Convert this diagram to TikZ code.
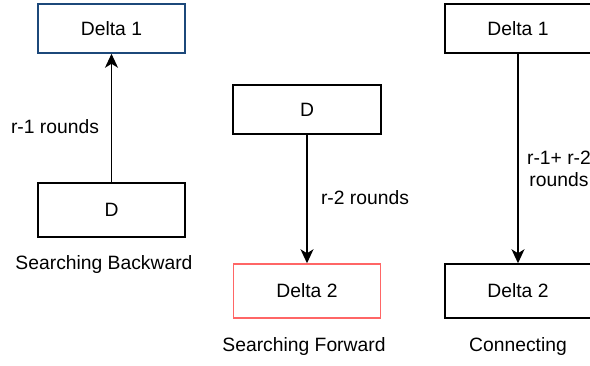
\documentclass[tikz,border=0pt]{standalone}
\usepackage{fontspec}
\setmainfont{Liberation Sans}
\usetikzlibrary{arrows.meta}
\definecolor{boxblue}{RGB}{28,72,122}
\definecolor{boxred}{RGB}{255,102,102}
\tikzset{
  box/.style={draw=black, line width=1.5pt, fill=white, inner sep=0pt, font=\fontsize{19.3}{22}\selectfont},
  lbl/.style={inner sep=0pt, align=center, font=\fontsize{19.3}{22}\selectfont},
  conn/.style={line width=1.5pt, -{Stealth[length=14pt, width=13pt, inset=4pt]}}
}
\begin{document}
\begin{tikzpicture}[x=1pt,y=-1pt]
\useasboundingbox (0,0) rectangle (590,365);
% left column
\node[box, draw=boxblue, minimum width=147pt, minimum height=49pt] (d1a) at (111.5,28.5) {Delta 1};
\node[box, minimum width=147pt, minimum height=54pt] (dA) at (111.5,210) {D};
\draw[conn] (dA) -- (d1a);
\node[lbl] (l1) at (55,127) {r-1 rounds};
\node[lbl] (t1) at (104,265) {Searching Backward};
% middle column
\node[box, minimum width=148pt, minimum height=49pt] (dB) at (307,109.5) {D};
\node[box, draw=boxred, minimum width=147pt, minimum height=54pt] (d2B) at (307,291) {Delta 2};
\draw[conn] (dB) -- (d2B);
\node[lbl] (l2) at (365,198) {r-2 rounds};
\node[lbl] (t2) at (304,347) {Searching Forward};
% right column
\node[box, minimum width=146pt, minimum height=49pt] (d1C) at (518,28.5) {Delta 1};
\node[box, minimum width=146pt, minimum height=54pt] (d2C) at (518,291) {Delta 2};
\draw[conn] (d1C) -- (d2C);
\node[lbl] (l3) at (559,169) {r-1+ r-2\\rounds};
\node[lbl] (t3) at (518,347) {Connecting};
\end{tikzpicture}
\end{document}
